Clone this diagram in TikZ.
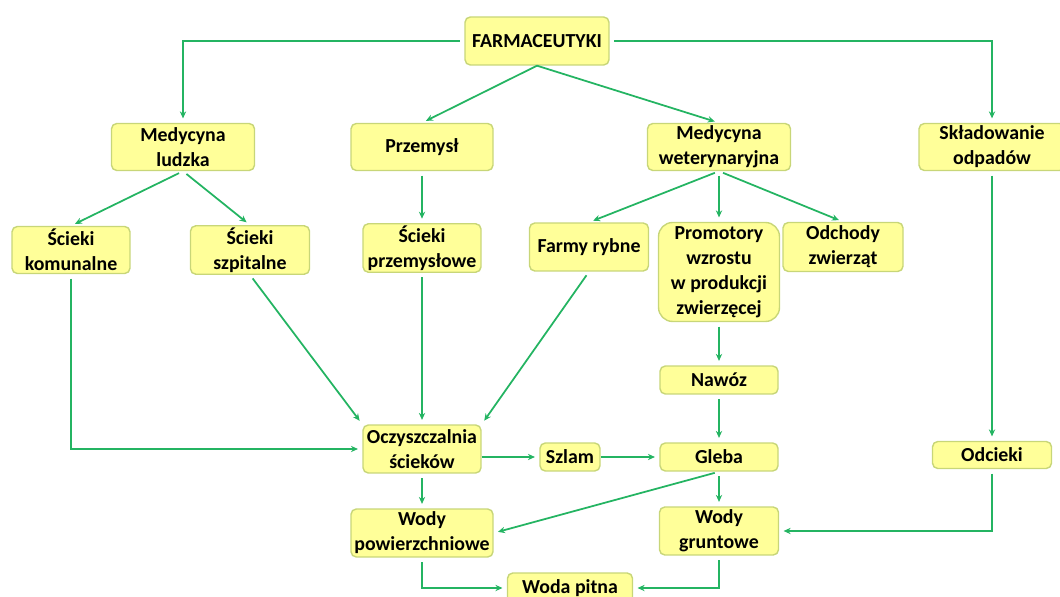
\documentclass[tikz,border=0pt]{standalone}
\usepackage{fontspec}
\setmainfont{Carlito}
\usepackage{tikz}
\usetikzlibrary{arrows.meta, positioning}

\definecolor{boxfill}{RGB}{255,255,153}
\definecolor{boxline}{RGB}{200,214,120}
\definecolor{flowgreen}{RGB}{36,180,98}

\tikzset{
    box/.style={draw=boxline, line width=0.8pt, fill=boxfill, rounded corners=3pt,
        align=center, inner sep=1pt, text=black,
        font=\bfseries\fontsize{11.3}{14.3}\selectfont},
    flow/.style={-{Stealth[length=4pt, width=3.6pt]}, draw=flowgreen, line width=1pt,
        shorten >=2.5pt, shorten <=2.5pt}
}

\begin{document}
\begin{tikzpicture}[x=0.02cm, y=-0.02cm]

    \useasboundingbox (0,0) rectangle (1060,597);

    % --- top level ---
    \node[box, minimum width=2.88cm, minimum height=0.96cm] (farm) at (537,41) {FARMACEUTYKI};

    % --- sources ---
    \node[box, minimum width=2.86cm, minimum height=0.94cm] (medl) at (183,147) {Medycyna\\ludzka};
    \node[box, minimum width=2.84cm, minimum height=0.94cm] (przem) at (422,147) {Przemysł};
    \node[box, minimum width=2.86cm, minimum height=0.94cm] (medw) at (719,147) {Medycyna\\weterynaryjna};
    \node[box, minimum width=2.92cm, minimum height=0.94cm] (sklad) at (992,147) {Składowanie\\odpadów};

    % --- second row ---
    \node[box, minimum width=2.36cm, minimum height=0.94cm] (skom) at (71,250) {Ścieki\\komunalne};
    \node[box, minimum width=2.38cm, minimum height=0.94cm] (sszp) at (250,250) {Ścieki\\szpitalne};
    \node[box, minimum width=2.36cm, minimum height=0.96cm] (sprz) at (422,248) {Ścieki\\przemysłowe};
    \node[box, minimum width=2.38cm, minimum height=0.96cm] (farmy) at (589,247) {Farmy rybne};
    \node[box, rounded corners=8pt, minimum width=2.42cm, minimum height=1.98cm] (promo) at (719,272)
        {Promotory\\wzrostu\\w produkcji\\zwierzęcej};
    \node[box, minimum width=2.4cm, minimum height=0.98cm] (odch) at (843,247) {Odchody\\zwierząt};

    % --- lower part ---
    \node[box, minimum width=2.36cm, minimum height=0.56cm] (nawoz) at (719,380) {Nawóz};
    \node[box, minimum width=2.36cm, minimum height=0.96cm] (oczy) at (422,449) {Oczyszczalnia\\ścieków};
    \node[box, minimum width=1.2cm, minimum height=0.56cm] (szlam) at (570,457) {Szlam};
    \node[box, minimum width=2.36cm, minimum height=0.56cm] (gleba) at (719,457) {Gleba};
    \node[box, minimum width=2.38cm, minimum height=0.54cm] (odc) at (992,455) {Odcieki};
    \node[box, minimum width=2.84cm, minimum height=0.96cm] (wpow) at (422,533) {Wody\\powierzchniowe};
    \node[box, minimum width=2.38cm, minimum height=0.96cm] (wgru) at (719,531) {Wody\\gruntowe};
    \node[box, minimum width=2.5cm, minimum height=0.6cm] (pitna) at (570,588) {Woda pitna};

    % --- connectors ---
    \draw[flow] (farm.west) -| (medl.north);
    \draw[flow] (farm.east) -| (sklad.north);
    \draw[flow, shorten <=0pt] (farm.south) -- (przem.north);
    \draw[flow, shorten <=0pt] (farm.south) -- (medw.north);

    \draw[flow] (medl.south) -- (skom.north);
    \draw[flow] (medl.south) -- (sszp.north);
    \draw[flow] (przem.south) -- (sprz.north);
    \draw[flow] (medw.south) -- (farmy.north);
    \draw[flow] (medw.south) -- (promo.north);
    \draw[flow] (medw.south) -- (odch.north);

    \draw[flow] (skom.south) |- (oczy.west);
    \draw[flow] (sszp.south) -- (oczy.north west);
    \draw[flow] (sprz.south) -- (oczy.north);
    \draw[flow] (farmy.south) -- (oczy.north east);

    \draw[flow] (promo.south) -- (nawoz.north);
    \draw[flow] (nawoz.south) -- (gleba.north);
    \draw[flow, shorten <=0pt] (szlam.west -| oczy.east) -- (szlam.west);
    \draw[flow, shorten <=0pt] (szlam.east) -- (gleba.west);

    \draw[flow] (oczy.south) -- (wpow.north);
    \draw[flow] (gleba.south) -- (wpow.east);
    \draw[flow] (gleba.south) -- (wgru.north);

    \draw[flow] (sklad.south) -- (odc.north);
    \draw[flow] (odc.south) |- (wgru.east);

    \draw[flow] (wpow.south) |- (pitna.west);
    \draw[flow] (wgru.south) |- (pitna.east);

\end{tikzpicture}
\end{document}
